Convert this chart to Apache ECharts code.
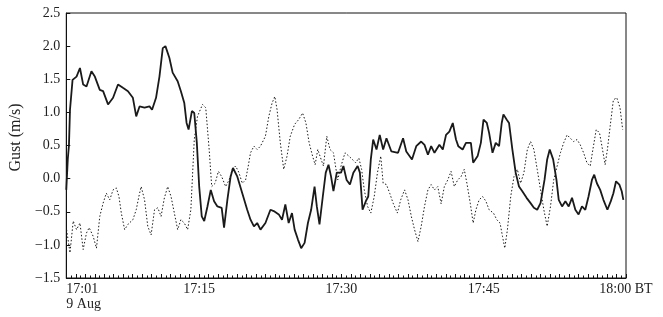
<!DOCTYPE html>
<html>
<head>
<meta charset="utf-8">
<script src="https://cdn.jsdelivr.net/npm/echarts@6/dist/echarts.min.js"></script>
<style>html,body{margin:0;padding:0;background:#fff}#c{width:663px;height:317px}</style>
</head>
<body>
<div id="c"></div>
<script>
// time in minutes after 17:00 (9 Aug), gust in m/s
const solidTime = [1.0,1.16,1.28,1.39,1.66,2.08,2.44,2.78,3.13,3.65,4.01,4.53,4.88,5.40,5.93,6.45,6.97,7.50,8.02,8.37,8.72,9.25,9.77,10.04,10.46,10.82,11.17,11.45,11.87,12.21,12.74,13.08,13.44,13.68,13.89,14.24,14.49,14.76,15.01,15.28,15.54,15.88,16.23,16.58,16.93,17.38,17.63,17.98,18.32,18.57,19.03,19.55,20.07,20.42,20.78,21.12,21.47,21.99,22.52,22.87,23.40,23.74,24.09,24.44,24.79,25.07,25.42,25.76,26.12,26.47,26.81,27.17,27.41,27.69,28.04,28.35,28.64,28.91,29.16,29.51,29.96,30.21,30.55,30.90,31.26,31.71,31.95,32.23,32.58,32.83,33.10,33.35,33.70,34.04,34.40,34.75,35.27,35.97,36.50,36.84,37.44,37.89,38.41,38.76,39.12,39.46,39.81,40.33,40.69,41.03,41.38,41.74,42.08,42.32,42.78,43.13,43.65,43.89,44.36,44.70,44.98,45.33,45.57,45.93,46.27,46.62,46.90,47.08,47.43,47.67,48.02,48.37,48.72,49.07,49.52,49.94,50.29,50.64,50.99,51.41,51.69,51.96,52.32,52.67,52.91,53.26,53.61,53.96,54.31,54.66,55.00,55.36,55.71,56.05,56.41,56.65,56.93,57.28,57.62,58.04,58.40,58.67,58.95,59.30,59.55,59.72];
const solidGust = [-0.17,0.3,0.5,1.04,1.49,1.54,1.67,1.42,1.39,1.62,1.54,1.34,1.32,1.12,1.22,1.42,1.37,1.32,1.22,0.94,1.09,1.07,1.09,1.04,1.22,1.54,1.97,2.0,1.82,1.6,1.47,1.32,1.14,0.84,0.74,1.02,0.99,0.54,-0.12,-0.57,-0.64,-0.42,-0.17,-0.34,-0.42,-0.44,-0.74,-0.32,0.03,0.16,0.03,-0.22,-0.47,-0.62,-0.72,-0.67,-0.77,-0.67,-0.47,-0.49,-0.54,-0.62,-0.39,-0.67,-0.52,-0.77,-0.92,-1.05,-0.97,-0.67,-0.47,-0.12,-0.42,-0.69,-0.27,0.09,0.21,0.03,-0.19,0.09,0.09,0.19,-0.02,-0.09,0.09,0.19,0.09,-0.47,-0.34,-0.27,0.29,0.59,0.44,0.66,0.44,0.61,0.41,0.39,0.61,0.41,0.29,0.49,0.56,0.51,0.36,0.49,0.39,0.51,0.44,0.66,0.71,0.84,0.59,0.49,0.44,0.54,0.54,0.24,0.34,0.54,0.89,0.84,0.69,0.39,0.54,0.49,0.84,0.97,0.89,0.84,0.44,0.09,-0.12,-0.19,-0.29,-0.37,-0.44,-0.47,-0.37,-0.02,0.29,0.44,0.29,-0.02,-0.32,-0.42,-0.34,-0.42,-0.29,-0.47,-0.54,-0.42,-0.47,-0.27,-0.02,0.06,-0.07,-0.17,-0.32,-0.47,-0.34,-0.22,-0.04,-0.09,-0.19,-0.32];
const dottedTime = [1.03,1.39,1.73,2.08,2.44,2.78,3.13,3.41,3.83,4.18,4.53,4.88,5.22,5.58,5.93,6.27,6.55,6.80,7.15,7.50,8.02,8.37,8.65,8.89,9.25,9.59,9.94,10.30,10.64,10.99,11.34,11.69,12.04,12.39,12.74,13.08,13.44,13.79,14.13,14.49,14.83,15.36,15.70,16.06,16.33,16.69,17.03,17.38,17.80,18.16,18.50,18.85,19.20,19.55,19.90,20.18,20.42,20.78,21.12,21.47,21.99,22.35,22.69,22.98,23.22,23.56,23.92,24.27,24.61,25.07,25.49,25.91,26.26,26.60,26.96,27.23,27.51,27.86,28.11,28.46,28.80,29.16,29.61,29.96,30.38,30.79,31.15,31.50,31.84,32.13,32.41,32.76,33.10,33.46,33.80,34.15,34.40,34.75,35.09,35.45,35.90,36.25,36.66,37.02,37.37,37.71,38.07,38.41,38.76,39.12,39.46,39.81,40.16,40.51,40.85,41.21,41.56,41.90,42.26,42.61,42.95,43.23,43.58,43.89,44.18,44.52,44.88,45.23,45.57,46.03,46.38,46.72,46.98,47.22,47.50,47.85,48.19,48.55,48.89,49.24,49.60,49.94,50.29,50.64,50.99,51.34,51.69,52.04,52.38,52.74,53.09,53.43,53.79,54.13,54.48,54.84,55.18,55.53,55.88,56.23,56.51,56.86,57.21,57.46,57.80,58.04,58.33,58.67,59.03,59.37,59.65];
const dottedGust = [-0.77,-1.12,-0.64,-0.77,-0.67,-1.07,-0.82,-0.74,-0.87,-1.05,-0.57,-0.37,-0.22,-0.32,-0.17,-0.14,-0.27,-0.52,-0.77,-0.69,-0.62,-0.47,-0.27,-0.12,-0.32,-0.72,-0.85,-0.47,-0.44,-0.57,-0.29,-0.12,-0.27,-0.52,-0.77,-0.62,-0.67,-0.77,-0.47,0.59,0.94,1.12,1.07,0.44,-0.12,-0.07,0.11,0.03,-0.12,-0.02,0.14,0.19,0.09,-0.07,-0.02,0.19,0.39,0.49,0.44,0.49,0.64,0.94,1.14,1.24,1.04,0.54,0.14,0.34,0.64,0.82,0.89,0.99,0.84,0.54,0.34,0.21,0.44,0.29,0.19,0.64,0.44,0.39,-0.02,0.19,0.39,0.34,0.29,0.24,0.31,0.14,-0.17,-0.42,-0.52,-0.27,0.09,0.34,-0.07,-0.09,-0.22,-0.37,-0.52,-0.32,-0.17,-0.32,-0.57,-0.77,-0.95,-0.72,-0.42,-0.17,-0.09,-0.17,-0.12,-0.38,-0.12,-0.02,0.11,-0.12,-0.02,0.03,0.14,-0.07,-0.37,-0.67,-0.47,-0.32,-0.27,-0.34,-0.47,-0.52,-0.62,-0.67,-0.87,-1.05,-0.77,-0.27,0.03,0.14,-0.07,0.09,0.44,0.56,0.44,0.14,-0.17,-0.47,-0.72,-0.42,-0.02,0.19,0.39,0.54,0.66,0.61,0.56,0.59,0.51,0.39,0.24,0.19,0.44,0.74,0.69,0.49,0.21,0.44,0.79,1.19,1.22,1.07,0.74];
const xTickValues = [1, 15, 30, 45, 60];
const xTickLabels = ['17:01\n9 Aug', '17:15', '17:30', '17:45', '18:00 BT'];
const yTitle = 'Gust (m/s)';

const pair = (t, v) => t.map((x, i) => [x, v[i]]);
const font = '"Liberation Serif", "DejaVu Serif", serif';
const chart = echarts.init(document.getElementById('c'), null, {renderer: 'canvas'});
chart.setOption({
  animation: false,
  grid: {left: 63, right: 37, top: 13, bottom: 39, show: true, borderColor: '#111', borderWidth: 1, backgroundColor: 'transparent'},
  xAxis: {
    type: 'value', min: 1, max: 60, interval: 1,
    axisLine: {onZero: false, lineStyle: {color: '#111', width: 1}},
    axisTick: {inside: true, length: 4, lineStyle: {color: '#111'}},
    minorTick: {show: true, splitNumber: 2, length: 2.5, lineStyle: {color: '#111'}},
    splitLine: {show: false},
    axisLabel: {
      customValues: xTickValues,
      formatter: v => xTickLabels[xTickValues.indexOf(v)],
      fontFamily: font, fontSize: 14, color: '#222', margin: 4, lineHeight: 15,
      alignMinLabel: 'left'
    }
  },
  yAxis: {
    type: 'value', min: -1.5, max: 2.5, interval: 0.5,
    name: yTitle, nameLocation: 'middle', nameGap: 38,
    nameTextStyle: {fontFamily: font, fontSize: 16, color: '#222', padding: [0, 0, 0, 16]},
    axisLine: {show: true, onZero: false, lineStyle: {color: '#111', width: 1}},
    axisTick: {show: true, inside: true, length: 4, lineStyle: {color: '#111'}},
    splitLine: {show: false},
    axisLabel: {
      formatter: v => v.toFixed(1).replace('-', '\u2212'),
      fontFamily: font, fontSize: 14, color: '#222', margin: 6
    }
  },
  series: [
    {type: 'line', data: pair(solidTime, solidGust), showSymbol: false, symbol: 'none',
     lineStyle: {color: '#1a1a1a', width: 1.8}},
    {type: 'line', data: pair(dottedTime, dottedGust), showSymbol: false, symbol: 'none',
     lineStyle: {color: '#1a1a1a', width: 1, type: [1.5, 2]}}
  ]
});
</script>
</body>
</html>
